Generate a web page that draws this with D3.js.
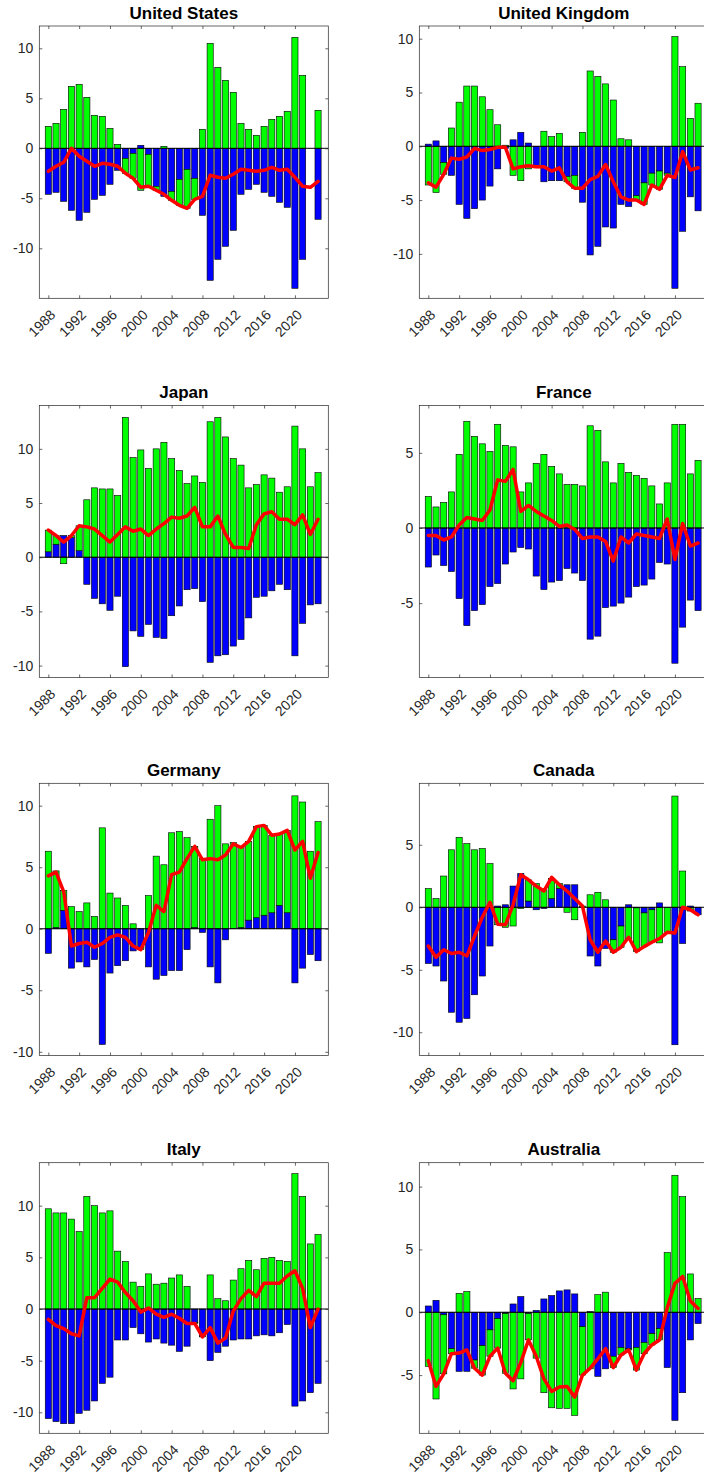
<!DOCTYPE html>
<html><head><meta charset="utf-8">
<script src="https://cdn.jsdelivr.net/npm/d3@7/dist/d3.min.js"></script>
<style>
html,body{margin:0;padding:0;background:#fff;}
svg{display:block;}
text{font-family:"Liberation Sans",Arial,Helvetica,sans-serif;}
</style></head><body>
<svg id="chart" width="704" height="1480"></svg>
<script>
const years = [1988,1989,1990,1991,1992,1993,1994,1995,1996,1997,1998,1999,2000,2001,2002,2003,2004,2005,2006,2007,2008,2009,2010,2011,2012,2013,2014,2015,2016,2017,2018,2019,2020,2021,2022,2023];
const xTickYears = [1988,1992,1996,2000,2004,2008,2012,2016,2020];
const countries = ["United States","United Kingdom","Japan","France","Germany","Canada","Italy","Australia"];

// blue series (stacked first)
const blueUS = [-4.6,-4.4,-5.3,-6.2,-7.2,-6.4,-5.1,-4.7,-3.6,-2.2,-1.0,-0.5,0.3,-0.6,-3.8,-4.8,-4.3,-3.1,-2.1,-3.0,-6.7,-13.2,-11.1,-9.8,-8.2,-4.6,-4.1,-3.6,-4.4,-4.8,-5.4,-5.9,-14.0,-11.1,0,-7.1];
const blueUK = [0.2,0.5,-1.5,-2.7,-5.4,-6.7,-5.8,-5.0,-3.7,-2.1,-0.2,0.6,1.3,0.3,-2.0,-3.3,-3.2,-3.2,-2.8,-2.7,-5.2,-10.1,-9.3,-7.5,-7.6,-5.4,-5.6,-4.6,-3.4,-2.5,-2.3,-2.5,-13.2,-7.9,-4.7,-6.0];
const blueJP = [0.5,1.2,2.0,1.8,0.6,-2.5,-3.8,-4.3,-4.9,-3.6,-10.1,-6.8,-7.3,-6.2,-7.4,-7.5,-5.4,-4.5,-3.0,-2.9,-4.1,-9.7,-9.1,-9.0,-8.2,-7.6,-5.6,-3.7,-3.6,-3.1,-2.5,-3.0,-9.1,-6.1,-4.4,-4.3];
const blueFR = [-2.6,-1.8,-2.5,-2.9,-4.7,-6.5,-5.5,-5.1,-3.9,-3.7,-2.4,-1.6,-1.3,-1.4,-3.2,-4.1,-3.6,-3.5,-2.7,-3.0,-3.5,-7.4,-7.2,-5.3,-5.2,-5.0,-4.6,-3.9,-3.8,-3.4,-2.3,-2.4,-9.0,-6.6,-4.8,-5.5];
const blueDE = [-2.0,0.1,1.5,-3.2,-2.7,-3.1,-2.5,-9.4,-3.6,-3.0,-2.6,-1.8,-1.5,-3.1,-4.1,-3.8,-3.4,-3.4,-1.7,0.1,-0.3,-3.1,-4.4,-0.9,0.0,0.1,0.7,0.9,1.1,1.3,1.9,1.3,-4.4,-3.2,-2.1,-2.6];
const blueCA = [-4.5,-4.7,-5.9,-8.4,-9.2,-8.9,-7.0,-5.5,-3.1,0.1,0.2,1.7,2.7,0.5,-0.2,-0.1,0.7,1.5,1.8,1.8,0.0,-3.9,-4.7,-3.3,-2.6,-1.5,0.2,-0.05,-0.45,-0.2,0.35,0.0,-11.0,-2.9,0.1,-0.6];
const blueIT = [-10.6,-10.9,-11.1,-11.1,-10.1,-9.8,-8.9,-7.2,-6.6,-3.0,-3.0,-1.8,-2.4,-3.2,-2.9,-3.3,-3.5,-4.1,-3.6,-1.3,-2.6,-5.0,-4.2,-3.6,-3.0,-2.9,-2.9,-2.6,-2.5,-2.6,-2.3,-1.5,-9.4,-8.9,-8.1,-7.2];
const blueAU = [0.5,0.95,-0.2,-2.9,-4.7,-4.7,-3.8,-2.65,-1.4,-0.5,-0.1,0.66,1.25,-0.1,0.15,1.06,1.33,1.7,1.78,1.46,-1.15,0.05,-5.1,-4.5,-3.5,-2.8,-2.9,-2.8,-2.4,-1.7,-1.3,-4.4,-8.6,-6.4,-2.2,-0.9];

// green series (stacked second)
const greenUS = [2.2,2.5,3.9,6.2,6.4,5.1,3.3,3.2,2.0,0.4,-1.5,-2.5,-4.2,-3.2,-0.4,0.2,-0.9,-2.6,-3.9,-2.1,1.9,10.5,8.1,6.8,5.6,2.5,1.9,1.3,2.2,2.9,3.2,3.7,11.1,7.3,0,3.8];
const greenUK = [-3.6,-4.3,-1.1,1.7,4.1,5.6,5.6,4.6,3.4,2.0,0.1,-2.7,-3.2,-2.1,0.0,1.4,0.9,1.2,-0.5,-1.2,1.3,7.0,6.5,5.8,4.3,0.7,0.6,-0.4,-2.0,-1.1,-1.7,-0.2,10.2,7.4,2.6,4.0];
const greenJP = [2.0,0.8,-0.6,0.2,2.3,5.3,6.4,6.3,6.3,5.7,12.9,9.2,9.9,8.2,10.0,10.6,9.1,8.0,6.8,7.5,6.9,12.5,12.9,11.1,9.1,8.5,6.4,6.7,7.6,7.3,6.0,6.5,12.1,10.0,6.5,7.8];
const greenFR = [2.1,1.4,1.7,2.4,4.9,7.1,6.1,5.6,5.1,6.9,5.5,5.4,2.4,3.0,4.3,4.9,4.1,3.6,2.9,2.9,2.8,6.8,6.5,4.4,3.0,4.3,3.7,3.5,3.3,2.8,1.6,3.0,6.9,6.9,3.6,4.5];
const greenDE = [6.3,4.6,1.6,1.8,1.4,2.1,1.0,8.2,2.9,2.5,1.9,0.4,-0.2,2.7,5.9,5.2,7.8,7.9,7.4,6.6,5.7,8.9,10.0,6.9,7.0,6.5,6.4,7.4,7.3,6.3,5.8,6.7,10.8,10.3,6.3,8.7];
const greenCA = [1.5,0.7,2.5,4.6,5.6,5.1,4.6,4.7,3.5,-1.4,-1.6,-1.5,-0.1,1.7,1.9,1.4,1.6,0.4,-0.4,-1.0,0.1,1.0,1.2,0.6,-1.0,-1.7,-2.55,-3.5,-2.7,-2.6,-2.85,-2.0,8.9,2.9,-0.3,0.0];
const greenIT = [9.7,9.3,9.3,8.7,7.5,10.9,10.0,9.3,9.5,5.6,4.6,2.6,2.2,3.4,2.4,2.5,3.0,3.3,2.2,-0.1,-0.1,3.3,1.0,0.8,2.8,3.9,4.7,3.8,4.9,5.0,4.7,4.6,13.1,10.9,6.3,7.2];
const greenAU = [-4.3,-6.9,-4.7,-0.4,1.5,1.65,-0.65,-2.35,-2.1,-2.35,-4.75,-6.1,-5.3,-2.1,-3.65,-6.4,-7.6,-7.65,-7.65,-8.2,-3.85,-4.5,1.4,1.6,-0.9,-0.6,-0.1,-1.8,-0.9,-0.9,-0.9,4.75,10.9,9.2,3.05,1.1];

// red line series
const redUS = [-2.3,-1.8,-1.4,0.0,-0.8,-1.3,-1.8,-1.5,-1.6,-1.8,-2.5,-3.0,-3.9,-3.8,-4.2,-4.6,-5.2,-5.7,-6.0,-5.1,-4.8,-2.7,-2.9,-3.0,-2.6,-2.1,-2.2,-2.3,-2.2,-1.9,-2.2,-2.1,-2.9,-3.8,-3.9,-3.3];
const redUK = [-3.4,-3.8,-2.6,-1.1,-1.2,-1.0,-0.2,-0.4,-0.3,-0.1,-0.1,-2.1,-1.9,-1.8,-1.9,-1.9,-2.3,-2.0,-3.3,-3.9,-3.9,-3.1,-2.8,-1.7,-3.3,-4.7,-5.0,-5.0,-5.4,-3.6,-4.0,-2.7,-2.9,-0.5,-2.2,-2.0];
const redJP = [2.5,2.0,1.4,2.0,2.9,2.8,2.6,2.0,1.4,2.1,2.8,2.4,2.6,2.0,2.6,3.1,3.7,3.6,3.8,4.6,2.8,2.8,3.8,2.1,0.9,0.9,0.8,3.0,4.0,4.2,3.5,3.5,3.0,3.9,2.1,3.5];
const redFR = [-0.5,-0.5,-0.8,-0.6,0.2,0.7,0.6,0.5,1.2,3.2,3.1,3.9,1.1,1.5,1.1,0.8,0.5,0.1,0.2,-0.1,-0.7,-0.6,-0.6,-0.9,-2.2,-0.6,-1.0,-0.4,-0.5,-0.6,-0.7,0.6,-2.1,0.3,-1.2,-1.0];
const redDE = [4.3,4.6,3.0,-1.4,-1.2,-1.1,-1.5,-1.2,-0.7,-0.5,-0.7,-1.4,-1.7,-0.3,1.9,1.4,4.4,4.6,5.7,6.7,5.6,5.7,5.6,6.0,6.9,6.6,7.1,8.3,8.4,7.6,7.7,8.0,6.4,7.1,4.1,6.2];
const redCA = [-3.1,-4.0,-3.4,-3.7,-3.6,-3.9,-2.3,-0.8,0.4,-1.35,-1.4,0.2,2.6,2.2,1.7,1.3,2.4,1.8,1.3,0.7,0.1,-2.6,-3.6,-2.7,-3.6,-3.2,-2.4,-3.55,-3.15,-2.8,-2.5,-2.0,-2.05,0.0,-0.2,-0.6];
const redIT = [-1.0,-1.6,-1.9,-2.4,-2.6,1.1,1.1,2.0,2.9,2.6,1.6,0.8,-0.3,0.1,-0.5,-0.8,-0.5,-0.9,-1.4,-1.4,-2.7,-1.8,-3.3,-2.8,-0.2,1.0,1.8,1.2,2.5,2.5,2.5,3.2,3.7,2.0,-1.8,0.0];
const redAU = [-3.85,-5.9,-4.9,-3.3,-3.25,-3.0,-4.45,-5.0,-3.5,-2.85,-4.85,-5.45,-4.0,-2.2,-3.5,-5.3,-6.3,-5.95,-5.9,-6.75,-5.0,-4.45,-3.7,-2.9,-4.4,-3.4,-3.0,-4.6,-3.3,-2.6,-2.2,0.35,2.3,2.85,0.9,0.3];

// y-axis limits per panel
const yLimits = [[-15.0,12.23],[-14.13,11.18],[-11.1,14.0],[-9.95,8.15],[-10.3,11.82],[-11.86,9.92],[-12.03,14.16],[-9.63,11.9]];

const blueSeries = [blueUS,blueUK,blueJP,blueFR,blueDE,blueCA,blueIT,blueAU];
const greenSeries = [greenUS,greenUK,greenJP,greenFR,greenDE,greenCA,greenIT,greenAU];
const redSeries = [redUS,redUK,redJP,redFR,redDE,redCA,redIT,redAU];

const svg = d3.select("#chart");
const colX = [39.3, 419.3];
const axW = 289;
const rowTop = [26, 405.5, 783.3, 1162.7];
const rowBottom = [298.3, 677.5, 1055.5, 1433.3];
const axisColor = "#262626";
const tickFont = 14;

countries.forEach((name, i) => {
  const col = i % 2, row = Math.floor(i / 2);
  const x0 = colX[col], x1 = x0 + axW, y0 = rowTop[row], y1 = rowBottom[row];
  const x = d3.scaleLinear().domain([1986.83, 2024.33]).range([x0, x1]);
  const y = d3.scaleLinear().domain(yLimits[i]).range([y1, y0]);
  const g = svg.append("g");

  const rows = years.map((yr, k) => ({year: yr, blue: blueSeries[i][k], green: greenSeries[i][k]}));
  const stacked = d3.stack().keys(["blue", "green"]).offset(d3.stackOffsetDiverging)(rows);
  const bw = (x(1989) - x(1988)) * 0.8;
  const colors = {blue: "#0000ff", green: "#00ff00"};
  stacked.forEach(s => {
    g.append("g").selectAll("rect")
      .data(s.filter(d => d[1] !== d[0]))
      .join("rect")
      .attr("x", d => x(d.data.year) - bw / 2)
      .attr("width", bw)
      .attr("y", d => y(Math.max(d[0], d[1])))
      .attr("height", d => Math.abs(y(d[0]) - y(d[1])))
      .attr("fill", colors[s.key])
      .attr("stroke", "#000")
      .attr("stroke-width", 0.6);
  });

  // baseline
  g.append("line")
    .attr("x1", x0).attr("x2", x1)
    .attr("y1", y(0)).attr("y2", y(0))
    .attr("stroke", "#000").attr("stroke-width", 1);

  // red line
  const line = d3.line().x((d, k) => x(years[k])).y(d => y(d));
  g.append("path")
    .datum(redSeries[i])
    .attr("d", line)
    .attr("fill", "none")
    .attr("stroke", "#ff0000")
    .attr("stroke-width", 3.5)
    .attr("stroke-linejoin", "round")
    .attr("stroke-linecap", "round");

  // y ticks
  const yt = [-10, -5, 0, 5, 10].filter(v => v >= yLimits[i][0] && v <= yLimits[i][1]);
  const yAxisL = d3.axisLeft(y).tickValues(yt).tickSize(-3).tickSizeOuter(0).tickPadding(6).tickFormat(d => String(d));
  const gl = g.append("g").attr("transform", `translate(${x0},0)`).call(yAxisL);
  const yAxisR = d3.axisRight(y).tickValues(yt).tickSize(-3).tickSizeOuter(0).tickFormat("");
  const gr = g.append("g").attr("transform", `translate(${x1},0)`).call(yAxisR);

  // x ticks
  const xAxisB = d3.axisBottom(x).tickValues(xTickYears).tickSize(-3).tickSizeOuter(0).tickFormat(d => String(d));
  const gb = g.append("g").attr("transform", `translate(0,${y1})`).call(xAxisB);
  const xAxisT = d3.axisTop(x).tickValues(xTickYears).tickSize(-3).tickSizeOuter(0).tickFormat("");
  const gt = g.append("g").attr("transform", `translate(0,${y0})`).call(xAxisT);

  [gl, gr, gb, gt].forEach(a => {
    a.select(".domain").remove();
    a.selectAll(".tick line").attr("stroke", axisColor).attr("stroke-width", 0.7);
    a.selectAll("text").attr("fill", axisColor).attr("font-size", tickFont)
      .attr("font-family", "'Liberation Sans', Arial, Helvetica, sans-serif");
  });
  gb.selectAll(".tick text")
    .attr("y", null).attr("dy", "0.35em")
    .attr("text-anchor", "end")
    .attr("transform", "translate(4,14) rotate(-45)");

  // box
  g.append("rect")
    .attr("x", x0).attr("y", y0)
    .attr("width", x1 - x0).attr("height", y1 - y0)
    .attr("fill", "none").attr("stroke", axisColor).attr("stroke-width", 0.7);

  // title
  g.append("text")
    .attr("x", (x0 + x1) / 2).attr("y", y0 - 7.5)
    .attr("text-anchor", "middle")
    .attr("font-size", 17).attr("font-weight", "bold")
    .attr("fill", "#000")
    .text(name);
});
</script>
</body></html>
